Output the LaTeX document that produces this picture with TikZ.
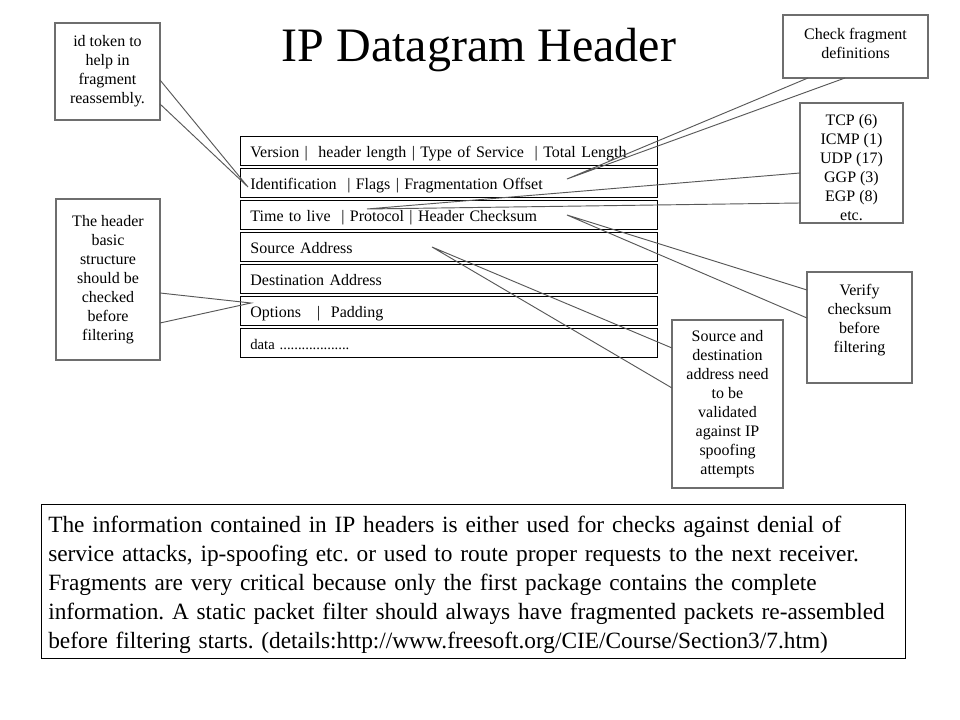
\documentclass[tikz,border=0pt]{standalone}
\usepackage{fontspec}
\setmainfont{Liberation Serif}
\definecolor{cgray}{RGB}{110,110,110}
\begin{document}
\frenchspacing
\begin{tikzpicture}[x=0.75pt,y=-0.75pt,
  callout/.style={draw=cgray, line width=1pt, align=center, inner sep=0pt,
    font=\fontsize{12}{14.25}\selectfont},
  pointer/.style={draw=cgray!80!black, line width=0.7pt},
  rowbox/.style={draw, line width=0.6pt, anchor=north west, minimum width=312.75pt,
    minimum height=21.75pt, inner xsep=7.5pt, inner ysep=0pt, text width=297.75pt,
    text height=10pt, text depth=0.7pt,
    align=left, font=\fontsize{12}{14}\selectfont},
  infobox/.style={draw, line width=0.6pt, anchor=north west, minimum width=648pt,
    minimum height=115.5pt, inner sep=0pt},
  infotext/.style={anchor=base west, inner sep=0pt, text width=660pt,
    align=left, font=\fontsize{17.5}{21.75}\selectfont}]
\useasboundingbox (0,0) rectangle (960,720);
\fill[white] (0,0) rectangle (960,720);

% title
\node[font=\fontsize{36}{40}\selectfont, anchor=base, inner sep=0pt] (title) at (479,62) {IP Datagram Header};

% header rows
\node[rowbox] (r1) at (240,136) {Version |~~header length | Type of Service~~| Total Length};
\node[rowbox] (r2) at (240,168) {Identification~~| Flags | Fragmentation Offset};
\node[rowbox] (r3) at (240,200) {Time to live~~| Protocol~| Header Checksum};
\node[rowbox] (r4) at (240,232) {Source Address};
\node[rowbox] (r5) at (240,264) {Destination Address};
\node[rowbox] (r6) at (240,296) {Options~~~|~~Padding};
\node[rowbox, font=\fontsize{11}{13}\selectfont] (r7) at (240,328) {data ...................};

% callouts
\node[callout, minimum width=78.75pt, minimum height=72.75pt] (c1) at (107.5,71.5)
  {id token to\\help in\\fragment\\reassembly.};
\node[callout, minimum width=108.75pt, minimum height=47.25pt] (c2) at (855.5,46.5)
  {Check fragment\\definitions\\[-9pt]\mbox{}};
\node[callout, minimum width=77.25pt, minimum height=90pt] (c3) at (851.5,163)
  {\mbox{}\\[1.5pt]TCP (6)\\ICMP (1)\\UDP (17)\\GGP (3)\\EGP (8)\\etc.};
\node[callout, minimum width=78pt, minimum height=120.75pt] (c4) at (108,279.5)
  {The header\\basic\\structure\\should be\\checked\\before\\filtering};
\node[callout, minimum width=78.75pt, minimum height=83.25pt] (c5) at (859.5,327.5)
  {Verify\\checksum\\before\\filtering\\\mbox{}};
\node[callout, minimum width=83.25pt, minimum height=126pt] (c6) at (727.5,404)
  {Source and\\destination\\address need\\to be\\validated\\against IP\\spoofing\\attempts};

% pointer coordinates
\coordinate (t1) at (248,187);
\coordinate (c1a) at (160,80);
\coordinate (c1b) at (160,104);
\coordinate (t2) at (567,179);
\coordinate (c2a) at (808,78);
\coordinate (c2b) at (845,78);
\coordinate (t3) at (367,209);
\coordinate (c3a) at (800,173);
\coordinate (c3b) at (800,203);
\coordinate (t4) at (251,303);
\coordinate (c4a) at (160,293);
\coordinate (c4b) at (160,323);
\coordinate (t5) at (567,215);
\coordinate (c5a) at (807,290);
\coordinate (c5b) at (807,318);
\coordinate (t6) at (432,247);
\coordinate (c6a) at (672,348);
\coordinate (c6b) at (672,388);

\draw[pointer] (c1a) -- (t1) -- (c1b);
\draw[pointer] (c2a) -- (t2) -- (c2b);
\draw[pointer] (c3a) -- (t3) -- (c3b);
\draw[pointer] (c4a) -- (t4) -- (c4b);
\draw[pointer] (c5a) -- (t5) -- (c5b);
\draw[pointer] (c6a) -- (t6) -- (c6b);

% info box
\node[infobox] (info) at (41,504) {};
\node[infotext] (infotext) at (48,532)
  {The information contained in IP headers is either used for checks against denial of\\
   service attacks, ip-spoofing etc. or used to route proper requests to the next receiver.\\
   Fragments are very critical because only the first package contains the complete\\
   information. A static packet filter should always have fragmented packets re-assembled\\
   before filtering starts. (details:http://www.freesoft.org/CIE/Course/Section3/7.htm)};
\end{tikzpicture}
\end{document}
